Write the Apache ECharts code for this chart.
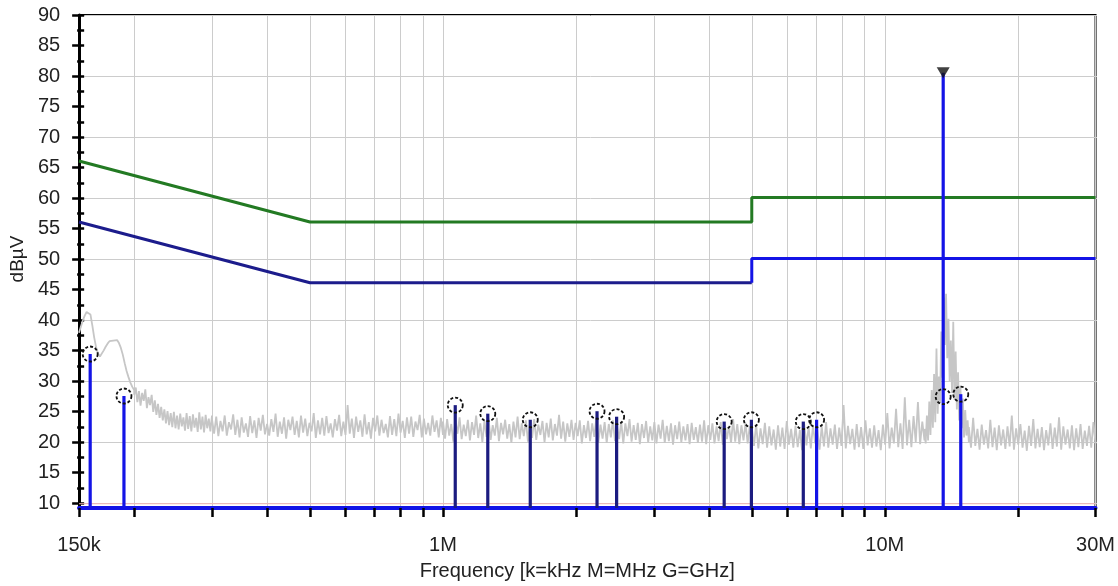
<!DOCTYPE html>
<html><head><meta charset="utf-8">
<script src="https://cdn.jsdelivr.net/npm/echarts@6/dist/echarts.min.js"></script>
<style>html,body{margin:0;padding:0;background:#fff}#c{width:1118px;height:586px}</style>
</head><body><div id="c"></div>
<script>
// ---------- data ----------
const xTickValues = [150000,200000,300000,400000,500000,600000,700000,800000,900000,
  1000000,2000000,3000000,4000000,5000000,6000000,7000000,8000000,9000000,
  10000000,20000000,30000000];
const xLabelValues = [150000,1000000,10000000,30000000];
const xAxisName = 'Frequency [k=kHz M=MHz G=GHz]';
const yAxisName = 'dBµV';

const qpLimit = [[150000,66],[500000,56],[5000000,56],[5000000,60],[30000000,60]];
const avLimitLow = [[150000,56],[500000,46],[5000000,46]];
const avLimitHigh = [[5000000,46],[5000000,50],[30000000,50]];
const floorLine = [[150000,9.7],[30000000,9.7]];

const stemsBlue = [[159000,34.3],[189600,27.4],[7010000,23.5],[13560000,80.5],[14860000,27.7]];
const stemsNavy = [[1066000,25.9],[1263000,24.5],[1576000,23.5],[2232000,24.9],[2472000,24.0],
  [4330000,23.2],[4990000,23.5],[6540000,23.2]];
const circleMarks = [[159000,34.3],[189600,27.4],[1066000,25.9],[1263000,24.5],[1576000,23.5],
  [2232000,24.9],[2472000,24.0],[4330000,23.2],[4990000,23.5],[6540000,23.2],[7010000,23.5],
  [13560000,27.3],[14860000,27.7]];
const peakMarker = [[13560000,80.5]];

// spectrum trace, segments: [startFreq, endFreq]
const specA = [37.8,38.8,39.8,40.6,41.2,41.5,40.8,39.0,37.0,35.4,34.4,33.9,34.2,34.9,35.5,36.0,36.4,36.7,36.5,36.8,36.6,36.1,35.3,34.2,32.8,31.5,30.5,29.6,28.9,28.4];
const specB = [27.6,28.8,26.4,28.2,25.8,27.9,26.6,28.5,25.4,27.2,25.9,27.6,24.8,26.7,24.3,26.1,23.8,25.6,23.4,25.2,22.9,24.9,22.6,24.6,22.3,24.8,22.1,24.2,21.9,24.5,22.4,23.9,21.7,24.6,22.0,24.1,21.6,24.4,22.2,23.8,21.5,24.7,21.9,24.0,21.4,24.3,22.1,23.7,21.6,24.2];
const specC = [23.6,21.2,24.0,20.8,23.3,21.6,24.2,20.9,23.1,21.9,24.4,21.0,23.5,20.6,23.9,21.4,22.9,20.7,24.1,21.3,23.4,20.5,23.8,21.7,24.3,21.1,22.8,20.9,23.6,21.5,24.5,20.7,23.2,21.2,23.9,20.4,23.5,21.8,24.0,21.0,23.3,20.6,24.2,21.4,23.7,20.8,23.0,21.6,24.6,20.5,23.4,21.1,23.8,20.9,24.1,21.3,22.9,20.6,23.6,21.7,24.3,20.8,23.2,21.0,25.9,21.2,23.7,20.5,24.0,21.5,23.4,20.7,24.4,21.1,23.1,20.4,23.8,21.6,24.2,20.9,23.5,21.3,22.8,20.6,24.1,21.0,23.6,20.8,24.5,21.4,23.3,20.5,23.9,21.2,24.0,20.7,23.2,21.8,24.3,20.6,23.7,21.1,23.0,20.9,24.2,21.5,23.4,20.6,23.8,21.0];
const specD = [23.2,20.4,23.6,20.9,22.8,19.9,23.4,21.2,23.9,20.3,22.7,20.8,23.5,20.1,23.1,21.0,24.2,20.5,22.9,19.8,23.3,20.7,23.7,20.2,22.6,
  20.9,23.8,20.0,23.0,21.1,23.5,20.4,22.8,19.7,23.2,20.6,24.0,20.3,22.9,20.8,23.4,19.9,23.1,20.5,23.6,20.2,22.7,21.0,23.3,19.8,
  23.0,20.6,23.7,20.1,22.8,20.9,24.3,20.4,23.2,19.9,22.9,20.7,23.5,20.2,23.0,20.8,23.4,19.6,22.6,20.5,23.3,20.0,22.9,20.7,23.8,
  19.8,22.7,20.4,23.1,19.7,22.8,20.6,23.4,20.0,22.5,20.3,23.2,19.6,22.9,20.8,23.6,19.9,22.6,20.2,23.0,19.5,22.8,20.5,23.3,19.8,
  22.4,20.1,23.1,19.6,22.7,20.4,23.5,19.7,22.5,20.0,22.9,19.4,22.6,20.3,23.2,19.8,22.4,20.1,22.8,19.5,23.0,20.2,22.3,19.7,22.7,
  19.9,23.4,19.5,22.6,20.2,22.9,19.6,22.4,20.0,23.1,19.4,22.7,20.3,22.5,19.7,23.6,19.9,22.8,19.5,22.6,20.1,23.0,19.6,22.4,20.0];
const specE = [22.3,19.2,22.7,18.8,22.1,19.5,23.0,18.9,22.4,19.3,21.9,18.6,22.6,19.1,22.2,18.7,23.3,19.4,22.0,18.9,22.5,19.0,21.8,18.5,22.8,19.3,22.3,18.8,22.6,19.6,
  21.9,18.6,22.4,19.1,23.1,18.9,22.1,19.4,22.7,18.7,22.2,19.2,25.9,18.8,22.5,19.5,22.0,18.6,22.8,19.0,22.3,18.7,23.4,19.3,22.1,18.9,22.6,19.1,21.8,18.5,
  22.7,19.4,24.6,18.8,22.2,19.6,25.3,19.0,22.9,18.7,27.2,19.3,23.5,19.0,24.1,19.8,26.4,19.5,23.2,20.1];
const specF = [22.0,19.6,24.2,20.1,26.5,21.0,28.4,22.2,31.0,23.1,35.2,24.5,30.6,26.2,38.0,30.4,43.6,35.8,44.2,33.6,40.1,29.8,36.5,27.9,39.6,26.8,34.7,25.2,31.3,23.4,29.1,22.1,27.0,20.6,25.1,20.9,23.4,19.8];
const specG = [22.3,18.9,23.8,19.2,22.0,18.6,22.7,19.4,21.8,18.8,23.5,19.0,22.2,18.5,22.6,19.3,21.9,18.7,22.4,19.1,24.2,18.6,22.1,19.4,22.8,18.9,21.7,18.4,22.5,19.2,
  23.6,18.8,22.0,19.0,22.3,18.5,21.8,19.3,22.9,18.7,22.2,19.1,23.9,18.6,22.4,19.4,21.9,18.8,22.6,18.5,22.1,19.0,22.8,18.7,21.7,19.2,22.5,18.9,23.1,19.6];
const specSegments = [
  [150000,200000,specA],[200000,300000,specB],[300000,1000000,specC],[1000000,5000000,specD],
  [5000000,12300000,specE],[12300000,15500000,specF],[15500000,30000000,specG]
];

// sample frequencies of each sweep segment (log-spaced sweep points)
const spectrum = [];
specSegments.forEach(([f0,f1,vals]) => {
  const n = vals.length;
  vals.forEach((v,i) => {
    const f = f0 * Math.pow(f1/f0, n > 1 ? i/(n-1) : 0);
    spectrum.push([f, v]);
  });
});

// ---------- chart ----------
const FONT = 'Liberation Sans, Arial, sans-serif';
const chart = echarts.init(document.getElementById('c'), null, {renderer:'canvas'});

function fmtFreq(v){
  if (v >= 999999) return Math.round(v/1e6) + 'M';
  return Math.round(v/1e3) + 'k';
}
function stemRender(color, width){
  return function(params, api){
    const top = api.coord([api.value(0), api.value(1)]);
    const base = api.coord([api.value(0), 9]);
    return {type:'line', shape:{x1:top[0],y1:top[1],x2:base[0],y2:base[1]},
      style:{stroke:color, lineWidth:width}};
  };
}
function circleRender(params, api){
  const c = api.coord([api.value(0), api.value(1)]);
  return {type:'circle', shape:{cx:c[0], cy:c[1], r:7.5},
    style:{fill:null, stroke:'#111', lineWidth:1.8, lineDash:[3,2]}};
}

const option = {
  animation:false,
  backgroundColor:'#fff',
  grid:[
    {left:79, right:21, top:15, bottom:77, show:true, borderColor:'#000', borderWidth:2, backgroundColor:'transparent'},
    {left:79, right:21, top:15, bottom:83, show:false}
  ],
  xAxis:[
    {gridIndex:0, type:'log', logBase:10, min:150000, max:30000000,
     axisLine:{show:true, onZero:false, lineStyle:{color:'#1212e6', width:4}},
     axisTick:{show:true, customValues:xTickValues, length:9, lineStyle:{color:'#000', width:2.5}},
     axisLabel:{show:true, customValues:xLabelValues, formatter:fmtFreq, fontFamily:FONT, fontSize:20, color:'#222', margin:27, hideOverlap:false},
     splitLine:{show:true, lineStyle:{color:'#cccccc', width:1}},
     minorTick:{show:false}, minorSplitLine:{show:false},
     name:xAxisName, nameLocation:'middle', nameGap:53,
     nameTextStyle:{fontFamily:FONT, fontSize:20, color:'#222', padding:[0,20,0,0]}},
    {gridIndex:1, type:'log', logBase:10, min:150000, max:30000000, show:false}
  ],
  yAxis:[
    {gridIndex:0, type:'value', min:9, max:90,
     axisLine:{show:true, lineStyle:{color:'#000', width:3}},
     axisTick:{show:false}, axisLabel:{show:false}, splitLine:{show:false}},
    {gridIndex:1, type:'value', min:10, max:90, interval:5, position:'left',
     axisLine:{show:false},
     axisTick:{show:true, length:12, lineStyle:{color:'#000', width:2.5}},
     minorTick:{show:true, splitNumber:2, length:7, lineStyle:{color:'#000', width:2.5}},
     axisLabel:{fontFamily:FONT, fontSize:20, color:'#222', margin:24},
     splitLine:{show:false},
     name:yAxisName, nameLocation:'middle', nameGap:54,
     nameTextStyle:{fontFamily:FONT, fontSize:19, color:'#222'}},
    {gridIndex:1, type:'value', min:10, max:90, interval:10, position:'right',
     axisLine:{show:false}, axisTick:{show:false}, axisLabel:{show:false},
     splitLine:{show:true, lineStyle:{color:'#cccccc', width:1}}}
  ],
  series:[
    {type:'line', xAxisIndex:0, yAxisIndex:0, data:floorLine, symbol:'none', silent:true,
     lineStyle:{color:'#f2b4b4', width:1}, z:2},
    {type:'line', xAxisIndex:0, yAxisIndex:0, data:spectrum, symbol:'none', silent:true,
     lineStyle:{color:'#c6c6c6', width:1.8}, z:3},
    {type:'line', xAxisIndex:0, yAxisIndex:0, data:qpLimit, symbol:'none',
     lineStyle:{color:'#237a23', width:3}, z:4},
    {type:'line', xAxisIndex:0, yAxisIndex:0, data:avLimitLow, symbol:'none',
     lineStyle:{color:'#1c1c8c', width:3}, z:4},
    {type:'line', xAxisIndex:0, yAxisIndex:0, data:avLimitHigh, symbol:'none',
     lineStyle:{color:'#1414e6', width:3}, z:4},
    {type:'custom', xAxisIndex:0, yAxisIndex:0, data:stemsNavy, renderItem:stemRender('#1c1c80', 3.2), z:5},
    {type:'custom', xAxisIndex:0, yAxisIndex:0, data:stemsBlue, renderItem:stemRender('#1414e6', 3.2), z:5},
    {type:'custom', xAxisIndex:0, yAxisIndex:0, data:circleMarks, renderItem:circleRender, z:6},
    {type:'scatter', xAxisIndex:0, yAxisIndex:0, data:peakMarker, symbol:'triangle', symbolRotate:180,
     symbolSize:[13,11], itemStyle:{color:'#111'}, z:7}
  ]
};
chart.setOption(option);
</script>
</body></html>
